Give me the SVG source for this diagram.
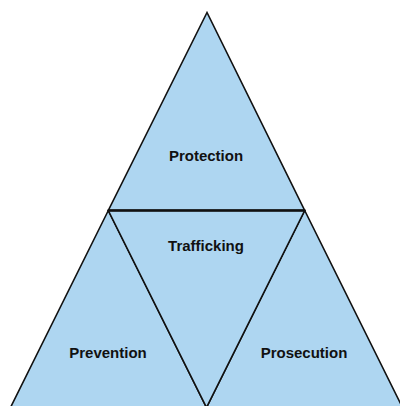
<svg xmlns="http://www.w3.org/2000/svg" width="400" height="406" viewBox="0 0 400 406">
  <style>
    .face { fill: #aed6f1; stroke: #111; stroke-width: 1.6; stroke-linejoin: miter; }
    .mid { fill: none; stroke: #111; stroke-width: 2.4; }
    .label { font-family: "Liberation Sans", Arial, sans-serif; font-weight: bold; font-size: 15px; fill: #111; text-anchor: middle; }
  </style>
  <rect width="400" height="406" fill="#fff"/>
  <!-- four sub-triangles of the large triangle -->
  <g id="protection">
    <polygon class="face" points="207,12.5 108.3,210.5 304.7,210.5"/>
    <text class="label" x="206" y="161">Protection</text>
  </g>
  <g id="prevention">
    <polygon class="face" points="108.3,210.5 10.5,407.5 206.5,407.5"/>
    <text class="label" x="108" y="358">Prevention</text>
  </g>
  <g id="prosecution">
    <polygon class="face" points="304.7,210.5 206.5,407.5 402.5,407.5"/>
    <text class="label" x="304" y="358">Prosecution</text>
  </g>
  <g id="trafficking">
    <polygon class="face" points="108.3,210.5 304.7,210.5 206.5,407.5"/>
    <text class="label" x="206" y="250.5">Trafficking</text>
  </g>
  <!-- shared dividing edge, drawn heavier -->
  <g id="connectors">
    <line class="mid" x1="108.3" y1="210.5" x2="304.7" y2="210.5"/>
  </g>
</svg>
